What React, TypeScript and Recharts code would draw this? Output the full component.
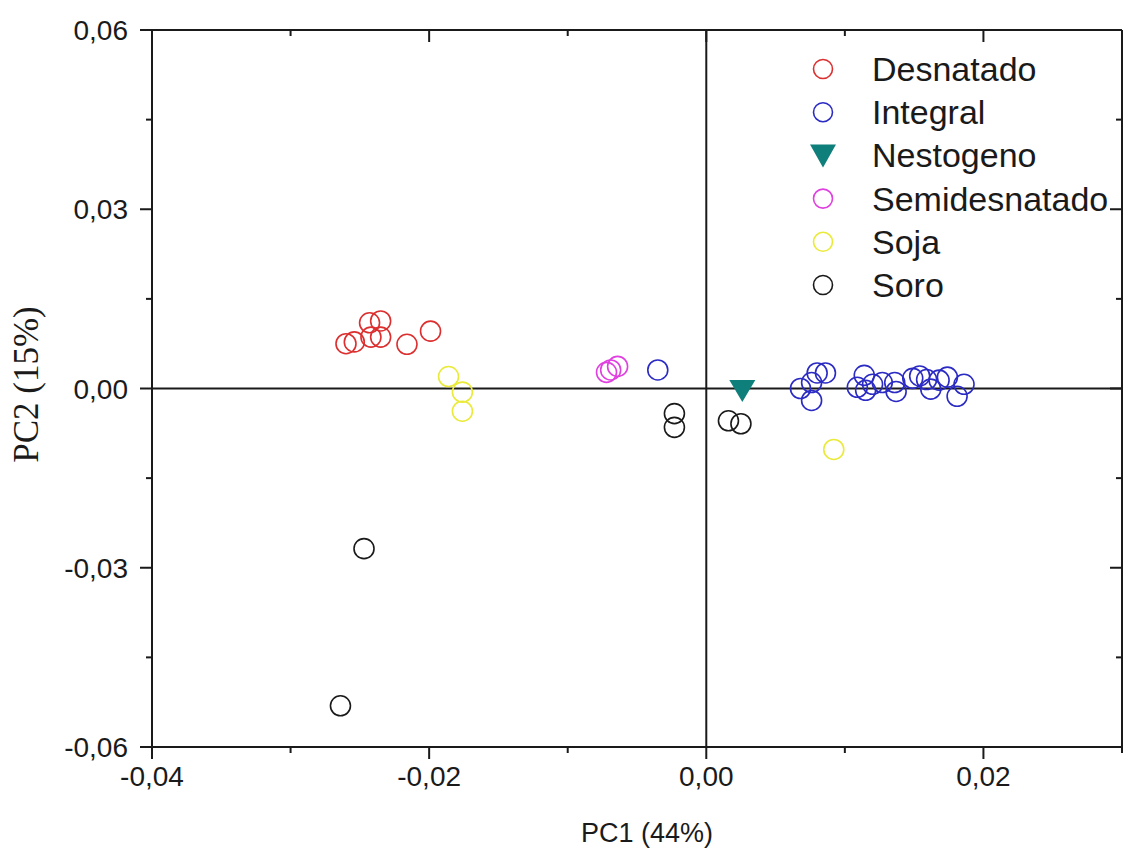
import React from 'react';
import { ScatterChart, Scatter, XAxis, YAxis, ReferenceLine } from 'recharts';

type Pt = { x: number; y: number };

const desnatado: Pt[] = [
  { x: -0.026, y: 0.0075 }, { x: -0.0254, y: 0.0078 }, { x: -0.0243, y: 0.011 },
  { x: -0.0235, y: 0.0113 }, { x: -0.0242, y: 0.0086 }, { x: -0.0235, y: 0.0086 },
  { x: -0.0216, y: 0.0074 }, { x: -0.0199, y: 0.0096 },
];
const integral: Pt[] = [
  { x: -0.0035, y: 0.0031 }, { x: 0.0068, y: 0.0 }, { x: 0.0076, y: 0.001 },
  { x: 0.008, y: 0.0026 }, { x: 0.0086, y: 0.0026 }, { x: 0.0076, y: -0.002 },
  { x: 0.0114, y: 0.0022 }, { x: 0.0109, y: 0.0002 }, { x: 0.0115, y: -0.0003 },
  { x: 0.012, y: 0.0007 }, { x: 0.0127, y: 0.001 }, { x: 0.0136, y: 0.001 },
  { x: 0.0137, y: -0.0005 }, { x: 0.0149, y: 0.0017 }, { x: 0.0154, y: 0.0021 },
  { x: 0.0159, y: 0.0015 }, { x: 0.0162, y: -0.0001 }, { x: 0.0168, y: 0.0014 },
  { x: 0.0174, y: 0.0019 }, { x: 0.0181, y: -0.0013 }, { x: 0.0186, y: 0.0007 },
];
const nestogeno: Pt[] = [{ x: 0.0026, y: -0.0004 }];
const semidesnatado: Pt[] = [
  { x: -0.0072, y: 0.0027 }, { x: -0.0069, y: 0.0031 }, { x: -0.0064, y: 0.0037 },
];
const soja: Pt[] = [
  { x: -0.0186, y: 0.002 }, { x: -0.0176, y: -0.0006 }, { x: -0.0176, y: -0.0038 },
  { x: 0.0092, y: -0.0102 },
];
const soro: Pt[] = [
  { x: -0.0023, y: -0.0042 }, { x: -0.0023, y: -0.0065 }, { x: 0.0016, y: -0.0054 },
  { x: 0.0025, y: -0.0059 }, { x: -0.0247, y: -0.0268 }, { x: -0.0264, y: -0.0531 },
];

const seriesNames = ['Desnatado', 'Integral', 'Nestogeno', 'Semidesnatado', 'Soja', 'Soro'];
const seriesColors = ['#dc2f2f', '#2b2bc4', '#0f7f7b', '#e040e0', '#eaea3a', '#1a1a1a'];
const seriesData = [desnatado, integral, nestogeno, semidesnatado, soja, soro];

const xTicks = [-0.04, -0.03, -0.02, -0.01, 0, 0.01, 0.02, 0.03];
const xMajorStep = 0.02;
const yTicks = [-0.06, -0.045, -0.03, -0.015, 0, 0.015, 0.03, 0.045, 0.06];
const yMajorStep = 0.03;

const FONT = '"Liberation Sans", Arial, sans-serif';
const INK = '#1a1a1a';

const isMajor = (v: number, step: number) => Math.abs(v / step - Math.round(v / step)) < 1e-6;
const fmt = (v: number) => {
  const s = Math.abs(v) < 1e-9 ? '0.00' : v.toFixed(2);
  return s.replace('.', ',');
};

const BottomTick = (props: any) => {
  const { x, y, payload } = props;
  const major = isMajor(payload.value, xMajorStep);
  const last = Math.abs(payload.value - 0.03) < 1e-9;
  return (
    <g>
      <line x1={x} y1={y} x2={x} y2={y + (major ? 12 : 6)} stroke={INK} strokeWidth={2} />
      {major && !last && (
        <text x={x} y={y + 39} textAnchor="middle" fontSize={28} fontFamily={FONT} fill={INK}>
          {fmt(payload.value)}
        </text>
      )}
    </g>
  );
};

const TopTick = (props: any) => {
  const { x, y, payload } = props;
  const major = isMajor(payload.value, xMajorStep);
  return <line x1={x} y1={y} x2={x} y2={y + (major ? 12 : 6)} stroke={INK} strokeWidth={2} />;
};

const LeftTick = (props: any) => {
  const { x, y, payload } = props;
  const major = isMajor(payload.value, yMajorStep);
  return (
    <g>
      <line x1={x - (major ? 12 : 6)} y1={y} x2={x} y2={y} stroke={INK} strokeWidth={2} />
      {major && (
        <text x={x - 24} y={y + 10} textAnchor="end" fontSize={28} fontFamily={FONT} fill={INK}>
          {fmt(payload.value)}
        </text>
      )}
    </g>
  );
};

const RightTick = (props: any) => {
  const { x, y, payload } = props;
  const major = isMajor(payload.value, yMajorStep);
  return <line x1={x - (major ? 12 : 6)} y1={y} x2={x} y2={y} stroke={INK} strokeWidth={2} />;
};

const circleShape = (color: string) => (p: any) => (
  <circle cx={p.cx} cy={p.cy} r={10} fill="none" stroke={color} strokeWidth={1.6} />
);
const triangleShape = (color: string) => (p: any) => (
  <polygon
    points={`${p.cx - 13},${p.cy - 11} ${p.cx + 13},${p.cy - 11} ${p.cx},${p.cy + 11}`}
    fill={color}
  />
);

const LegendBox = () => (
  <svg width={320} height={270} style={{ position: 'absolute', left: 799, top: 40 }}>
    {seriesNames.map((name, i) => {
      const cy = 29 + i * 43.2;
      const color = seriesColors[i];
      return (
        <g key={name}>
          {name === 'Nestogeno' ? (
            <polygon points={`${11},${cy - 11} ${37},${cy - 11} ${24},${cy + 12}`} fill={color} />
          ) : (
            <circle cx={24} cy={cy} r={9.5} fill="none" stroke={color} strokeWidth={1.6} />
          )}
          <text x={73} y={cy + 12} fontSize={34} fontFamily={FONT} fill={INK}>
            {name}
          </text>
        </g>
      );
    })}
  </svg>
);

export default function App() {
  return (
    <div style={{ position: 'absolute', left: 0, top: 0, width: 1123, height: 852, background: '#fff' }}>
      <ScatterChart width={1123} height={852} margin={{ top: 29, right: 0, bottom: 0, left: 0 }}>
        <XAxis
          xAxisId="bottom"
          type="number"
          dataKey="x"
          domain={[-0.04, 0.03]}
          ticks={xTicks}
          interval={0}
          allowDataOverflow
          height={105}
          orientation="bottom"
          axisLine={{ stroke: INK, strokeWidth: 2 }}
          tickLine={false}
          tickSize={0}
          tickMargin={0}
          tick={<BottomTick />}
          label={{
            content: (lp: any) => {
              const vb = lp.viewBox || { x: 152, y: 747, width: 970 };
              return (
                <text x={vb.x + vb.width / 2 + 10} y={vb.y + 95} textAnchor="middle" fontSize={27} fontFamily={FONT} fill={INK}>
                  PC1 (44%)
                </text>
              );
            },
          }}
        />
        <XAxis
          xAxisId="top"
          type="number"
          dataKey="x"
          domain={[-0.04, 0.03]}
          ticks={xTicks}
          interval={0}
          allowDataOverflow
          height={1}
          orientation="top"
          axisLine={{ stroke: INK, strokeWidth: 2 }}
          tickLine={false}
          tickSize={0}
          tickMargin={0}
          tick={<TopTick />}
        />
        <YAxis
          yAxisId="left"
          type="number"
          dataKey="y"
          domain={[-0.06, 0.06]}
          ticks={yTicks}
          interval={0}
          allowDataOverflow
          width={152}
          orientation="left"
          axisLine={{ stroke: INK, strokeWidth: 2 }}
          tickLine={false}
          tickSize={0}
          tickMargin={0}
          tick={<LeftTick />}
          label={{
            content: (lp: any) => {
              const vb = lp.viewBox || { x: 0, y: 30, height: 717 };
              const cy = vb.y + vb.height / 2 - 4;
              return (
                <text
                  x={38}
                  y={cy}
                  transform={`rotate(-90, 38, ${cy})`}
                  textAnchor="middle"
                  fontSize={35}
                  fontFamily='"Liberation Serif", "Times New Roman", serif'
                  fill={INK}
                >
                  PC2 (15%)
                </text>
              );
            },
          }}
        />
        <YAxis
          yAxisId="right"
          type="number"
          dataKey="y"
          domain={[-0.06, 0.06]}
          ticks={yTicks}
          interval={0}
          allowDataOverflow
          width={1}
          orientation="right"
          axisLine={{ stroke: INK, strokeWidth: 2 }}
          tickLine={false}
          tickSize={0}
          tickMargin={0}
          tick={<RightTick />}
        />
        <ReferenceLine xAxisId="bottom" yAxisId="left" x={0} stroke={INK} strokeWidth={2} />
        <ReferenceLine xAxisId="bottom" yAxisId="left" y={0} stroke={INK} strokeWidth={2} />
        {seriesNames.map((name, i) => (
          <Scatter
            key={name}
            name={name}
            data={seriesData[i]}
            xAxisId="bottom"
            yAxisId="left"
            fill={seriesColors[i]}
            isAnimationActive={false}
            shape={name === 'Nestogeno' ? triangleShape(seriesColors[i]) : circleShape(seriesColors[i])}
          />
        ))}
      </ScatterChart>
      <LegendBox />
    </div>
  );
}
